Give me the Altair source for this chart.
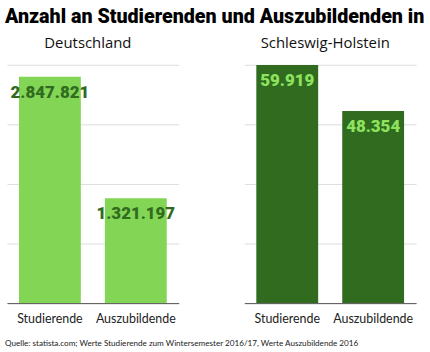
import altair as alt
import pandas as pd

main_title = "Anzahl an Studierenden und Auszubildenden in"
regions = ["Deutschland", "Schleswig-Holstein"]
categories = ["Studierende", "Auszubildende"]
de_values = [2847821, 1321197]
sh_values = [59919, 48354]
de_ticks = [0, 750000, 1500000, 2250000, 3000000]
sh_ticks = [0, 15000, 30000, 45000, 60000]
source = "Quelle: statista.com; Werte Studierende zum Wintersemester 2016/17, Werte Auszubildende 2016"

LIGHT = "#83d655"
DARK = "#306b1f"
LABEL_LIGHT = "#8ee35e"


def fmt(v):
    return f"{v:,}".replace(",", ".")


def panel(values, title, ticks, bar_color, text_color, with_source=False):
    df = pd.DataFrame({"Kategorie": categories, "Wert": values,
                       "Label": [fmt(v) for v in values]})
    base = alt.Chart(df).encode(
        x=alt.X("Kategorie:N", sort=categories,
                scale=alt.Scale(paddingInner=0.28, paddingOuter=0.14),
                axis=alt.Axis(title=None, labelAngle=0, ticks=False,
                              domainColor="#555555", labelFontSize=12.5,
                              labelFont="Lato", labelPadding=10,
                              labelColor="#222222"))
    )
    bars = base.mark_bar(color=bar_color).encode(
        y=alt.Y("Wert:Q", scale=alt.Scale(domain=[ticks[0], ticks[-1]], nice=False),
                axis=alt.Axis(title=None, labels=False, ticks=False, domain=False,
                              values=ticks, gridColor="#dddddd"))
    )
    text = base.mark_text(baseline="top", dy=8, font="Roboto", fontWeight=900,
                          fontSize=17, color=text_color).encode(
        y="Wert:Q", text="Label:N")
    layers = [bars, text]
    if with_source:
        src = alt.Chart(pd.DataFrame({"t": [source]})).mark_text(
            align="left", baseline="middle", font="Lato", fontSize=8.2,
            color="#222222").encode(x=alt.value(-2), y=alt.value(281), text="t:N")
        layers.append(src)
    return alt.layer(*layers).properties(
        width=173, height=240,
        title=alt.TitleParams(title, fontSize=15, fontWeight="normal",
                              font="Open Sans", offset=14, dx=-5, color="#111111"))


left = panel(de_values, regions[0], de_ticks, LIGHT, DARK, with_source=True)
right = panel(sh_values, regions[1], sh_ticks, DARK, LABEL_LIGHT)

chart = alt.hconcat(left, right, spacing=66, bounds="flush").properties(
    title=alt.TitleParams(main_title, anchor="start", fontSize=19.8,
                          font="Roboto", fontWeight=900, color="#000000", offset=9),
    padding={"left": 5, "top": 6, "right": 5, "bottom": 3},
).configure_view(stroke=None)

chart.save("out.html", embed_options={"renderer": "svg", "actions": False})
